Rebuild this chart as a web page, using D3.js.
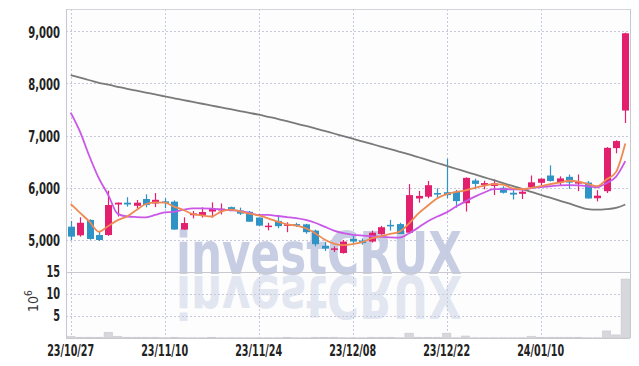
<!DOCTYPE html>
<html>
<head>
<meta charset="utf-8">
<script src="https://cdn.jsdelivr.net/npm/d3@7"></script>
<style>
  body { margin: 0; background: #fff; }
  svg { display: block; }
</style>
</head>
<body>
<div id="chart"></div>
<script>
(function () {
  "use strict";

  // Trading days (KRX), 23/10/27 .. 24/01/23
  const dates = [
    "23/10/27", "23/10/30", "23/10/31", "23/11/01", "23/11/02", "23/11/03", "23/11/06", "23/11/07", "23/11/08", "23/11/09",
    "23/11/10", "23/11/13", "23/11/14", "23/11/15", "23/11/16", "23/11/17", "23/11/20", "23/11/21", "23/11/22", "23/11/23",
    "23/11/24", "23/11/27", "23/11/28", "23/11/29", "23/11/30", "23/12/01", "23/12/04", "23/12/05", "23/12/06", "23/12/07",
    "23/12/08", "23/12/11", "23/12/12", "23/12/13", "23/12/14", "23/12/15", "23/12/18", "23/12/19", "23/12/20", "23/12/21",
    "23/12/22", "23/12/26", "23/12/27", "23/12/28", "24/01/02", "24/01/03", "24/01/04", "24/01/05", "24/01/08", "24/01/09",
    "24/01/10", "24/01/11", "24/01/12", "24/01/15", "24/01/16", "24/01/17", "24/01/18", "24/01/19", "24/01/22", "24/01/23"
  ];
  const tickDates = ["23/10/27", "23/11/10", "23/11/24", "23/12/08", "23/12/22", "24/01/10"];

  const open = [
    5255, 5090, 5385, 5095, 5095, 5680, 5715, 5655, 5785, 5700,
    5740, 5735, 5200, 5475, 5480, 5545, 5565, 5630, 5565, 5540,
    5430, 5250, 5365, 5275, 5305, 5300, 5180, 4890, 4815, 4750,
    5020, 4990, 4970, 5115, 5290, 5305, 5140, 5795, 5830, 5900,
    5915, 5925, 5705, 6140, 6055, 6035, 6000, 5905, 5885, 6015,
    6095, 6235, 6100, 6210, 6080, 6100, 5800, 5935, 6760, 7480
  ];
  const high = [
    5365, 5435, 5395, 5170, 5945, 5720, 5820, 5765, 5875, 5900,
    5800, 5760, 5435, 5555, 5625, 5720, 5700, 5640, 5620, 5555,
    5430, 5330, 5480, 5340, 5330, 5310, 5200, 4960, 4880, 5000,
    5075, 5030, 5180, 5270, 5385, 5330, 6070, 5940, 6130, 5990,
    6555, 5960, 6200, 6175, 6135, 6160, 6030, 5955, 5995, 6235,
    6180, 6430, 6220, 6255, 6255, 6130, 5955, 6780, 6910, 8970
  ];
  const low = [
    5000, 5065, 5005, 4980, 5080, 5450, 5640, 5600, 5625, 5630,
    5610, 5195, 5195, 5415, 5430, 5430, 5490, 5570, 5480, 5350,
    5270, 5185, 5225, 5150, 5250, 5120, 4880, 4790, 4770, 4740,
    4935, 4910, 4950, 5100, 5180, 5115, 5115, 5715, 5800, 5800,
    5800, 5620, 5545, 5970, 5970, 5860, 5890, 5775, 5785, 6000,
    6050, 6120, 6040, 5980, 5935, 5795, 5740, 5900, 6660, 7240
  ];
  const close = [
    5065, 5330, 5020, 5000, 5670, 5715, 5680, 5715, 5670, 5770,
    5720, 5200, 5325, 5510, 5535, 5600, 5600, 5585, 5505, 5350,
    5275, 5275, 5265, 5300, 5280, 5150, 4920, 4835, 4840, 4970,
    4970, 4940, 5140, 5245, 5265, 5115, 5860, 5845, 6050, 5870,
    5860, 5745, 6190, 6075, 6090, 6085, 5905, 5870, 5925, 6105,
    6175, 6130, 6180, 6100, 6115, 5795, 5850, 6765, 6895, 8960
  ];

  // Moving averages
  const ma5 = [
    5690, 5520, 5350, 5160, 5270, 5380, 5450, 5575, 5690, 5720,
    5715, 5640, 5575, 5495, 5470, 5450, 5545, 5580, 5550, 5505,
    5470, 5415, 5350, 5300, 5275, 5225, 5130, 5010, 4930, 4900,
    4920, 4960, 5030, 5075, 5115, 5160, 5320, 5510, 5660, 5800,
    5880, 5920, 5950, 6000, 6040, 6070, 6060, 5990, 5975, 6000,
    6030, 6070, 6100, 6135, 6120, 6075, 6030, 6160, 6300, 6850
  ];
  const ma20 = [
    7440, 7070, 6600, 6180, 5860, 5500, 5450, 5440, 5435, 5480,
    5530, 5540, 5580, 5605, 5605, 5600, 5585, 5570, 5555, 5520,
    5480, 5480, 5460, 5440, 5420, 5385, 5330, 5255, 5180, 5130,
    5100, 5085, 5075, 5060, 5050, 5045, 5130, 5240, 5360, 5450,
    5530, 5640, 5740, 5830, 5910, 5975, 5975, 5970, 5965, 5995,
    6015, 6030, 6045, 6050, 6045, 6030, 6010, 6090, 6210, 6510
  ];
  const ma60 = [
    8160, 8110, 8060, 8010, 7975, 7935, 7895, 7860, 7825, 7790,
    7750, 7715, 7680, 7645, 7610, 7575, 7540, 7505, 7470, 7435,
    7400, 7360, 7320, 7275, 7230, 7185, 7140, 7090, 7040, 6990,
    6940, 6890, 6840, 6790, 6740, 6690, 6640, 6585, 6530, 6475,
    6420, 6365, 6310, 6255, 6200, 6145, 6090, 6035, 5980, 5920,
    5865, 5810, 5755, 5700, 5640, 5590, 5580, 5590, 5615, 5680
  ];

  // Volume, in millions of shares
  const volume = [
    0.4, 0.17, 0.17, 0.17, 1.3, 0.4, 0.17, 0.17, 0.17, 0.17,
    0.06, 0.17, 0.06, 0.06, 0.06, 0.17, 0.06, 0.06, 0.06, 0.06,
    0.06, 0.06, 0.06, 0.17, 0.06, 0.06, 0.17, 0.17, 0.17, 0.06,
    0.06, 0.06, 0.17, 0.17, 0.17, 0.06, 1.1, 0.17, 0.17, 0.17,
    1.1, 0.06, 0.45, 0.06, 0.06, 0.06, 0.06, 0.06, 0.06, 0.4,
    0.17, 0.17, 0.17, 0.17, 0.17, 0.06, 0.06, 1.6, 0.7, 13.4
  ];

  const priceTicks = [5000, 6000, 7000, 8000, 9000];
  const volTicks = [5, 10, 15];

  const W = 639, H = 366;
  const L = 66, R = 630, TOP = 9, MID = 272, BOT = 338;
  const FONT = "'DejaVu Sans Condensed', sans-serif";
  const UP = "#e2206d", DOWN = "#3093c6";
  const GRID = "#c6c8de";

  // no narrow font installed: squeeze condensed glyphs to the reference widths
  const narrow = s => s.split("").reduce((w, ch) => w + (ch === "," ? 4.5 : ch === "/" ? 3.1 : 6.8), 0);

  const svg = d3.select("#chart").append("svg").attr("width", W).attr("height", H);

  const x = d3.scaleBand().domain(d3.range(dates.length)).range([L, R]);
  const cx = i => x(i) + x.bandwidth() / 2;
  const y = d3.scaleLinear().domain([4387, 9425]).range([MID, TOP]);
  const yv = d3.scaleLinear().domain([0, 15]).range([BOT, MID]);

  // plot backgrounds
  svg.append("rect").attr("x", L).attr("y", TOP).attr("width", R - L).attr("height", BOT - TOP)
    .attr("fill", "#fdfdfd");

  // watermark + reflection
  const wm = svg.append("g");
  wm.append("text").attr("x", 176).attr("y", 274)
    .attr("font-family", FONT).attr("font-weight", "bold")
    .attr("font-size", 58).attr("textLength", 286).attr("lengthAdjust", "spacingAndGlyphs")
    .attr("fill", "#c7cee3").text("investCRUX");
  wm.append("text").attr("x", 176).attr("y", 274)
    .attr("transform", "translate(0,550) scale(1,-1)")
    .attr("font-family", FONT).attr("font-weight", "bold")
    .attr("font-size", 58).attr("textLength", 286).attr("lengthAdjust", "spacingAndGlyphs")
    .attr("fill", "#e2e6f0").text("investCRUX");

  // grid lines
  svg.append("g").selectAll("line").data(priceTicks).join("line")
    .attr("x1", L).attr("x2", R).attr("y1", d => Math.round(y(d)) + 0.5).attr("y2", d => Math.round(y(d)) + 0.5)
    .attr("stroke", GRID).attr("stroke-dasharray", "2,2");
  svg.append("g").selectAll("line").data(volTicks.slice(0, 2)).join("line")
    .attr("x1", L).attr("x2", R).attr("y1", d => Math.round(yv(d)) + 0.5).attr("y2", d => Math.round(yv(d)) + 0.5)
    .attr("stroke", GRID).attr("stroke-dasharray", "2,2");
  const tickIdx = tickDates.map(d => dates.indexOf(d));
  svg.append("g").selectAll("line").data(tickIdx).join("line")
    .attr("x1", d => Math.round(cx(d)) + 0.5).attr("x2", d => Math.round(cx(d)) + 0.5)
    .attr("y1", TOP).attr("y2", BOT)
    .attr("stroke", GRID).attr("stroke-dasharray", "2,2");

  // frame
  svg.append("line").attr("x1", L).attr("x2", R).attr("y1", TOP + 0.5).attr("y2", TOP + 0.5).attr("stroke", "#d4d4da");
  svg.append("line").attr("x1", L).attr("x2", R).attr("y1", MID + 0.5).attr("y2", MID + 0.5).attr("stroke", "#c8c8ce");
  svg.append("line").attr("x1", L).attr("x2", R).attr("y1", BOT + 0.5).attr("y2", BOT + 0.5).attr("stroke", "#c8c8ce");
  svg.append("line").attr("x1", L + 0.5).attr("x2", L + 0.5).attr("y1", TOP).attr("y2", BOT).attr("stroke", "#c8c8d0");
  svg.append("line").attr("x1", R + 0.5).attr("x2", R + 0.5).attr("y1", TOP).attr("y2", BOT).attr("stroke", "#c8c8d0");

  // volume bars
  svg.append("g").selectAll("rect").data(volume).join("rect")
    .attr("x", (d, i) => x(i) + 0.5).attr("width", x.bandwidth() - 1)
    .attr("y", d => yv(d)).attr("height", d => BOT - yv(d))
    .attr("fill", "#d7d7dc").attr("stroke", "#c9c9cf").attr("stroke-width", 0.6);

  // price panel, clipped
  svg.append("defs").append("clipPath").attr("id", "price-clip")
    .append("rect").attr("x", L).attr("y", TOP).attr("width", R - L).attr("height", MID - TOP);
  const pg = svg.append("g").attr("clip-path", "url(#price-clip)");

  const bodyW = 7;
  const candles = pg.append("g").selectAll("g").data(dates).join("g");
  candles.append("line")
    .attr("x1", (d, i) => Math.round(cx(i)) + 0.5).attr("x2", (d, i) => Math.round(cx(i)) + 0.5)
    .attr("y1", (d, i) => y(high[i])).attr("y2", (d, i) => y(low[i]))
    .attr("stroke", (d, i) => close[i] >= open[i] ? UP : DOWN).attr("stroke-width", 1.2);
  candles.append("rect")
    .attr("x", (d, i) => Math.round(cx(i)) + 0.5 - bodyW / 2).attr("width", bodyW)
    .attr("y", (d, i) => y(Math.max(open[i], close[i])))
    .attr("height", (d, i) => Math.max(1.5, Math.abs(y(open[i]) - y(close[i]))))
    .attr("fill", (d, i) => close[i] >= open[i] ? UP : DOWN);

  // moving averages
  const line = d3.line().x((d, i) => cx(i)).y(d => y(d)).curve(d3.curveMonotoneX);
  [[ma60, "#7a7a7a"], [ma20, "#c957e8"], [ma5, "#ef8a52"]].forEach(([s, c]) => {
    pg.append("path").datum(s).attr("d", line)
      .attr("fill", "none").attr("stroke", c).attr("stroke-width", 1.8);
  });

  // axes labels
  const label = (sel, str) => sel.attr("font-family", FONT).attr("font-weight", "bold")
    .attr("font-size", 15).attr("fill", "#222")
    .attr("textLength", d => narrow(str(d))).attr("lengthAdjust", "spacingAndGlyphs")
    .text(str);

  label(svg.append("g").selectAll("text").data(priceTicks).join("text")
    .attr("x", 60).attr("y", d => y(d) + 1).attr("dy", "0.36em")
    .attr("text-anchor", "end"), d3.format(","));
  label(svg.append("g").selectAll("text").data(volTicks).join("text")
    .attr("x", 60).attr("y", d => yv(d)).attr("dy", "0.36em")
    .attr("text-anchor", "end"), d => String(d));
  label(svg.append("g").selectAll("text").data(tickIdx).join("text")
    .attr("x", d => cx(d)).attr("y", 356)
    .attr("text-anchor", "middle"), d => dates[d]);

  const unit = svg.append("text").attr("transform", "translate(38,312) rotate(-90)")
    .attr("font-family", FONT).attr("font-size", 14).attr("fill", "#333");
  unit.append("tspan").text("10");
  unit.append("tspan").attr("dy", -6).attr("font-size", 10).text("6");
})();
</script>
</body>
</html>
